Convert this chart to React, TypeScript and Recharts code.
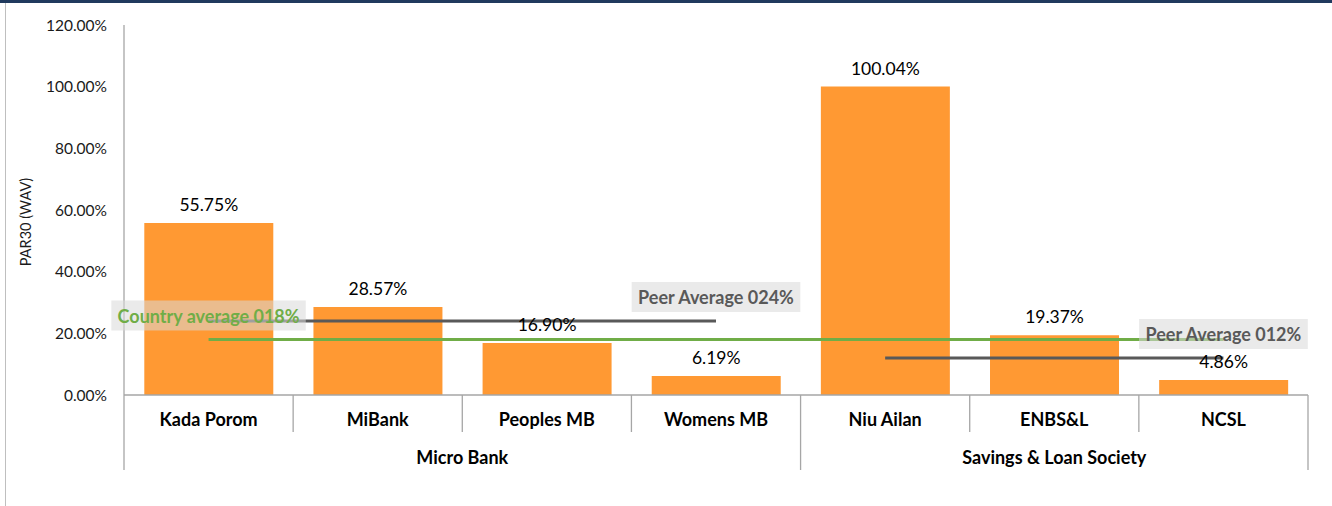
import React from 'react';
import { ComposedChart, Bar, Line, XAxis, YAxis, LabelList } from 'recharts';

const categories = ['Kada Porom', 'MiBank', 'Peoples MB', 'Womens MB', 'Niu Ailan', 'ENBS&L', 'NCSL'];
const par30Values = [55.75, 28.57, 16.9, 6.19, 100.04, 19.37, 4.86];
const groupNames = ['Micro Bank', 'Savings & Loan Society'];
const groupSizes = [4, 3];
const countryAverage = 18;
const peerAverages = [24, 12];
const countryLabel = 'Country average 018%';
const peerLabels = ['Peer Average 024%', 'Peer Average 012%'];
const yTicks = [0, 20, 40, 60, 80, 100, 120];
const yAxisTitle = 'PAR30 (WAV)';

const FONT = 'Lato, "Open Sans", sans-serif';
const ORANGE = '#FF9933';
const GREEN = '#70AD47';
const DARKGRAY = '#595959';
const BORDER = '#a6a6a6';

const groupStarts: number[] = [];
{
  let s = 0;
  for (const n of groupSizes) {
    groupStarts.push(s);
    s += n;
  }
}
const groupOf = (i: number) => {
  for (let g = groupStarts.length - 1; g >= 0; g--) if (i >= groupStarts[g]) return g;
  return 0;
};

const data = categories.map((name, i) => {
  const row: Record<string, any> = { name, value: par30Values[i], country: countryAverage };
  peerAverages.forEach((p, g) => {
    row['peer' + g] = groupOf(i) === g ? p : null;
  });
  return row;
});

let measureCtx: CanvasRenderingContext2D | null = null;
const measure = (text: string, font: string) => {
  if (!measureCtx) {
    const c = document.createElement('canvas');
    measureCtx = c.getContext('2d');
  }
  if (!measureCtx) return text.length * 9;
  measureCtx.font = font;
  return measureCtx.measureText(text).width;
};

const LABEL_SIZE = 18;

const makeAvgLabel = (text: string, atIndex: number, color: string) => (props: any) => {
  const vb = props.viewBox || {};
  const px = props.x ?? vb.x;
  const py = props.y ?? vb.y;
  if (props.index !== atIndex || px == null || py == null) return null;
  const w = measure(text, `bold ${LABEL_SIZE}px Lato`) + 12;
  const h = 30;
  return (
    <g>
      <rect x={px - w / 2} y={py - 9 - h} width={w} height={h} fill="rgba(217,217,217,0.55)" />
      <text
        x={px}
        y={py - 9 - h / 2}
        textAnchor="middle"
        dominantBaseline="central"
        fontFamily={FONT}
        fontWeight="bold"
        fontSize={LABEL_SIZE}
        fill={color}
      >
        {text}
      </text>
    </g>
  );
};

const CategoryTick = (props: any) => {
  const { x, y, payload, index, width, visibleTicksCount } = props;
  const n = visibleTicksCount || categories.length;
  const bw = width / n;
  const left = x - bw / 2;
  const right = x + bw / 2;
  const g = groupOf(index);
  const isGroupStart = groupStarts[g] === index;
  const isLast = index === n - 1;
  const elems: React.ReactNode[] = [];
  elems.push(
    <text key="t" x={x} y={y + 31} textAnchor="middle" fontFamily={FONT} fontWeight="bold" fontSize={18} fill="#000">
      {payload.value}
    </text>
  );
  elems.push(
    <line key="l" x1={left} x2={left} y1={y} y2={y + (isGroupStart ? 75 : 37)} stroke={BORDER} strokeWidth={1.3} />
  );
  if (isLast) {
    elems.push(<line key="r" x1={right} x2={right} y1={y} y2={y + 75} stroke={BORDER} strokeWidth={1.3} />);
  }
  if (isGroupStart) {
    const cx = x + ((groupSizes[g] - 1) * bw) / 2;
    elems.push(
      <text key="g" x={cx} y={y + 69} textAnchor="middle" fontFamily={FONT} fontWeight="bold" fontSize={18} fill="#000">
        {groupNames[g]}
      </text>
    );
  }
  return <g>{elems}</g>;
};

const YTitle = (props: any) => {
  const vb = props.viewBox || {};
  const cx = (vb.x ?? 0) + 25;
  const cy = (vb.y ?? 0) + (vb.height ?? 0) / 2 + 12;
  return (
    <text
      x={cx}
      y={cy}
      transform={`rotate(-90 ${cx} ${cy})`}
      textAnchor="middle"
      dominantBaseline="central"
      fontFamily={FONT}
      fontSize={14.5}
      fill="#1a1a1a"
    >
      {yAxisTitle}
    </text>
  );
};

export default function App() {
  return (
    <div style={{ position: 'absolute', left: 0, top: 0, width: 1332, height: 506, background: '#fff', overflow: 'hidden' }}>
      <div style={{ position: 'absolute', left: 0, top: 0, width: 1332, height: 3, background: '#203a5e' }} />
      <div style={{ position: 'absolute', left: 5, top: 3, width: 1, height: 503, background: '#bfbfbf' }} />
      <div style={{ position: 'absolute', left: 0, top: 0 }}>
        <ComposedChart
          width={1332}
          height={506}
          data={data}
          margin={{ top: 25, right: 24, bottom: 0, left: 0 }}
          barCategoryGap="12%"
        >
          <XAxis
            dataKey="name"
            xAxisId="main"
            height={111}
            tickLine={false}
            tickSize={0}
            tickMargin={0}
            axisLine={{ stroke: BORDER, strokeWidth: 1.3 }}
            tick={<CategoryTick />}
            interval={0}
          />
          <XAxis
            dataKey="name"
            xAxisId="top"
            orientation="top"
            height={0}
            tick={false}
            tickLine={false}
            axisLine={{ stroke: BORDER, strokeWidth: 1.3 }}
          />
          <YAxis
            yAxisId="left"
            width={124}
            domain={[0, 120]}
            ticks={yTicks}
            tickLine={false}
            tickSize={0}
            tickMargin={17}
            axisLine={{ stroke: BORDER, strokeWidth: 1.3 }}
            tick={{ fontFamily: FONT, fontSize: 15.5, fill: '#1a1a1a' }}
            tickFormatter={(v: number) => v.toFixed(2) + '%'}
            label={{ content: <YTitle /> }}
          />
          <YAxis
            yAxisId="right"
            orientation="right"
            width={0}
            domain={[0, 120]}
            tick={false}
            tickLine={false}
            axisLine={{ stroke: BORDER, strokeWidth: 1.3 }}
          />
          <Bar dataKey="value" xAxisId="main" yAxisId="left" fill={ORANGE} isAnimationActive={false}>
            <LabelList
              dataKey="value"
              position="top"
              offset={12}
              formatter={(v: any) => Number(v).toFixed(2) + '%'}
              style={{ fontFamily: FONT, fontSize: 17.5, fill: '#000' }}
            />
          </Bar>
          {peerAverages.map((_, g) => (
            <Line
              key={'peer' + g}
              dataKey={'peer' + g}
              xAxisId="main"
              yAxisId="left"
              stroke={DARKGRAY}
              strokeWidth={3}
              dot={false}
              activeDot={false}
              connectNulls={false}
              isAnimationActive={false}
            >
              <LabelList
                dataKey={'peer' + g}
                content={makeAvgLabel(peerLabels[g], groupStarts[g] + groupSizes[g] - 1, DARKGRAY)}
              />
            </Line>
          ))}
          <Line
            dataKey="country"
            xAxisId="main"
            yAxisId="left"
            stroke={GREEN}
            strokeWidth={3}
            dot={false}
            activeDot={false}
            isAnimationActive={false}
          >
            <LabelList dataKey="country" content={makeAvgLabel(countryLabel, 0, GREEN)} />
          </Line>
        </ComposedChart>
      </div>
    </div>
  );
}
